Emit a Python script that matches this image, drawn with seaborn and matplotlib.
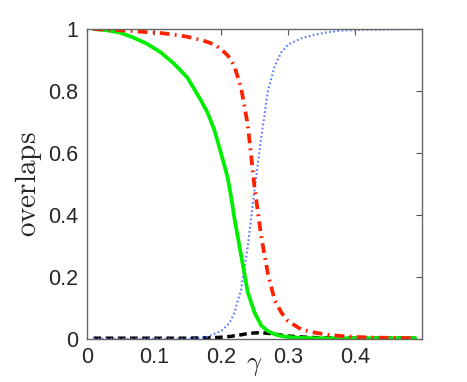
import numpy as np
import pandas as pd
import seaborn as sns
import matplotlib
matplotlib.use("Agg")
import matplotlib.pyplot as plt

# gamma grid and overlaps
gamma = [0.01, 0.03, 0.05, 0.07, 0.09, 0.11, 0.13, 0.15, 0.17, 0.18, 0.19,
         0.20, 0.21, 0.215, 0.22, 0.23, 0.24, 0.25, 0.26, 0.27, 0.28, 0.29, 0.30,
         0.32, 0.34, 0.36, 0.38, 0.40, 0.43, 0.46, 0.49]

green = [1.0, 0.996, 0.988, 0.972, 0.952, 0.925, 0.888, 0.843, 0.77, 0.73, 0.675,
         0.60, 0.52, 0.46, 0.39, 0.27, 0.15, 0.085, 0.043, 0.025, 0.015, 0.009, 0.006,
         0.003, 0.002, 0.002, 0.002, 0.002, 0.002, 0.002, 0.002]

red = [1.0, 0.998, 0.996, 0.993, 0.99, 0.987, 0.982, 0.975, 0.965, 0.958, 0.95,
       0.935, 0.915, 0.90, 0.88, 0.81, 0.69, 0.49, 0.33, 0.21, 0.125, 0.085, 0.057,
       0.03, 0.02, 0.013, 0.009, 0.006, 0.004, 0.003, 0.002]

blue = [0.0, 0.0, 0.0, 0.0, 0.0, 0.0, 0.0, 0.001, 0.003, 0.007, 0.016,
        0.025, 0.045, 0.06, 0.085, 0.16, 0.30, 0.48, 0.65, 0.80, 0.88, 0.925, 0.95,
        0.97, 0.982, 0.99, 0.995, 0.997, 0.998, 0.999, 1.0]

black = [0.002, 0.002, 0.002, 0.002, 0.002, 0.002, 0.002, 0.002, 0.003, 0.003, 0.004,
         0.005, 0.007, 0.008, 0.01, 0.013, 0.017, 0.019, 0.02, 0.018, 0.015, 0.012, 0.009,
         0.006, 0.004, 0.003, 0.003, 0.002, 0.002, 0.002, 0.002]

xticks = [0, 0.1, 0.2, 0.3, 0.4]
yticks = [0, 0.2, 0.4, 0.6, 0.8, 1]

sns.set_style("white")
plt.rcParams['font.family'] = ['Liberation Sans', 'DejaVu Sans']
plt.rcParams['mathtext.fontset'] = 'cm'

fig = plt.figure(figsize=(4.67, 3.82), dpi=100)
ax = fig.add_axes([0.186, 0.113, 0.718, 0.811])

df = pd.DataFrame({'gamma': gamma, 'green': green, 'red': red,
                   'blue': blue, 'black': black})

sns.lineplot(data=df, x='gamma', y='black', ax=ax, color='black', lw=2.5,
             linestyle=(0, (2.2, 1.3)))
sns.lineplot(data=df, x='gamma', y='blue', ax=ax, color='#5577ff', lw=1.5,
             linestyle=(0, (0.8, 1.2)))
sns.lineplot(data=df, x='gamma', y='green', ax=ax, color='#00ee00', lw=2.7)
sns.lineplot(data=df, x='gamma', y='red', ax=ax, color='#ff2200', lw=2.7,
             linestyle=(0, (2.6, 1.4, 0.5, 1.4)))

ax.set_xlim(0, 0.5)
ax.set_ylim(0, 1)
ax.set_xticks(xticks)
ax.set_xticklabels(['0', '0.1', '0.2', '0.3', '0.4'])
ax.set_yticks(yticks)
ax.set_yticklabels(['0', '0.2', '0.4', '0.6', '0.8', '1'])
ax.tick_params(direction='in', top=True, right=True, length=4,
               labelsize=15.5, color='#555555', pad=6)
for s in ax.spines.values():
    s.set_color('#666666')
    s.set_linewidth(1.0)

ax.set_xlabel(r'$\gamma$', fontsize=19, labelpad=-10)
ax.set_ylabel(r'$\mathrm{overlaps}$', fontsize=21, labelpad=3)

fig.savefig('out.png', dpi=100)
